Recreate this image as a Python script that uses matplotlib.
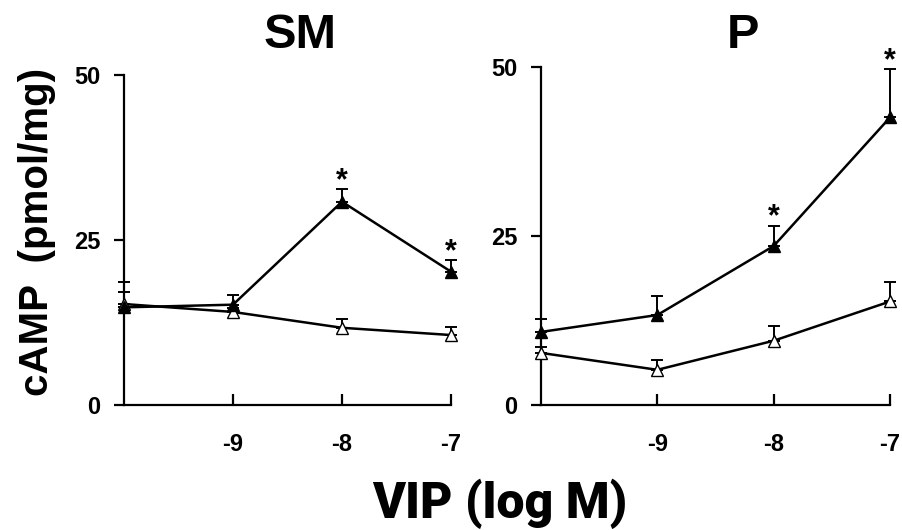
import matplotlib
matplotlib.use("Agg")
import matplotlib.pyplot as plt
import numpy as np

plt.rcParams['font.family'] = ['Liberation Sans', 'DejaVu Sans']
plt.rcParams['font.weight'] = 'bold'

# VIP concentration (log M); -10 stands for the basal point without label
dose = [-10, -9, -8, -7]

# SM panel
sm_vip = [14.8, 15.2, 30.8, 20.2]
sm_vip_err = [3.8, 1.5, 1.9, 1.8]
sm_ctl = [15.3, 14.1, 11.7, 10.6]
sm_ctl_err = [1.8, 0.6, 1.4, 1.2]
sm_star = [-8, -7]

# P panel
p_vip = [10.8, 13.3, 23.5, 42.5]
p_vip_err = [1.9, 2.8, 3.0, 7.1]
p_ctl = [7.7, 5.2, 9.5, 15.3]
p_ctl_err = [0.9, 1.5, 2.2, 2.9]
p_star = [-8, -7]

xticks = [-9, -8, -7]
yticks = [0, 25, 50]

fig = plt.figure(figsize=(9.02, 5.30), dpi=100)
ax1 = fig.add_axes([124/902, 1-405/530, 327/902, 330/530])
ax2 = fig.add_axes([541/902, 1-405/530, 349/902, 338.3/530])


def panel(ax, vip, vip_err, ctl, ctl_err, stars):
    for y, e, fc in [(ctl, ctl_err, 'white'), (vip, vip_err, 'black')]:
        ax.errorbar(dose, y, yerr=[np.zeros(len(e)), e], fmt='none',
                    ecolor='black', elinewidth=1.4, capsize=4.5, capthick=1.4,
                    zorder=2, clip_on=False)
        ax.plot(dose, y, color='black', lw=1.8, marker='^', ms=9,
                mfc=fc, mec='black', mew=1.0, zorder=3, clip_on=False)
    for s in stars:
        i = dose.index(s)
        ax.annotate('*', (s, vip[i] + vip_err[i]), xytext=(0, 0),
                    textcoords='offset points', ha='center', va='baseline',
                    fontsize=22, fontweight='bold')
    ax.set_xlim(-10, -7)
    ax.set_ylim(0, 50)
    ax.spines['top'].set_visible(False)
    ax.spines['right'].set_visible(False)
    ax.spines['left'].set_linewidth(1.6)
    ax.spines['bottom'].set_linewidth(1.6)
    ax.set_xticks(xticks)
    ax.set_xticklabels([str(t) for t in xticks])
    ax.set_yticks(yticks)
    ax.set_yticklabels([str(t) for t in yticks])
    ax.tick_params(axis='x', direction='in', length=8, width=1.6, pad=20,
                   labelsize=17)
    ax.tick_params(axis='y', direction='out', length=7, width=1.6, pad=10,
                   labelsize=17)


panel(ax1, sm_vip, sm_vip_err, sm_ctl, sm_ctl_err, sm_star)
panel(ax2, p_vip, p_vip_err, p_ctl, p_ctl_err, p_star)

fig.text(300/902, 1-36/530, 'SM', ha='center', va='center', fontsize=35,
         fontweight='bold')
fig.text(743/902, 1-36/530, 'P', ha='center', va='center', fontsize=35,
         fontweight='bold')
fig.text(37/902, 0.562, 'cAMP  (pmol/mg)', rotation=90, ha='center',
         va='center', fontsize=29, fontweight='bold')
fig.text(500/902, 1-518/530, 'VIP (log M)', ha='center', va='baseline',
         fontsize=36, fontweight='heavy',
         family=['Roboto', 'Liberation Sans', 'DejaVu Sans'])

fig.savefig('out.png', dpi=100)
